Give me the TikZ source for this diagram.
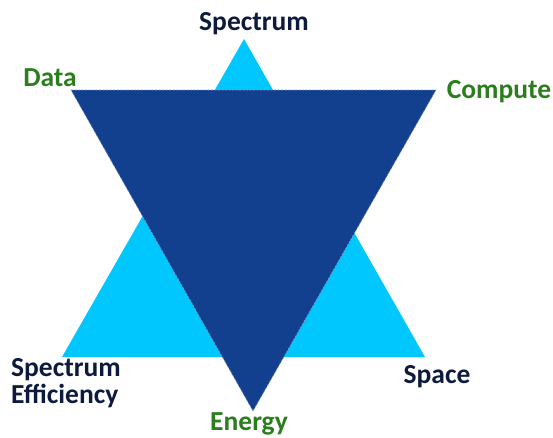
\documentclass[tikz,border=0pt]{standalone}
\usepackage{fontspec}
\setmainfont{Carlito}
\usepackage{tikz}
\usepackage{xcolor}

\definecolor{skyblue}{HTML}{00C8FF}
\definecolor{deepblue}{HTML}{133F8F}
\definecolor{leafgreen}{HTML}{2B7D1E}
\definecolor{inknavy}{HTML}{0D1A3E}

\tikzset{
  lbl/.style={inner sep=0pt,font=\fontsize{27.5}{27}\selectfont\bfseries,anchor=base},
  navylbl/.style={lbl,text=inknavy},
  greenlbl/.style={lbl,text=leafgreen}
}

\begin{document}
\begin{tikzpicture}[x=1pt,y=-1pt]
      \useasboundingbox (0,0) rectangle (553,437);
      % upward triangle
      \fill [skyblue] (244,39) -- (425,357) -- (62,357) -- cycle;
      % downward triangle
      \draw [deepblue!55!white,dash pattern=on 2pt off 1.5pt,line width=0.6pt,fill=deepblue] (71,90) -- (436,90) -- (253,411) -- cycle;
      % labels
      \node [navylbl] (spectrum) at (254,30) {Spectrum};
      \node [greenlbl] (data) at (50,86) {Data};
      \node [greenlbl] (compute) at (499,98) {Compute};
      \node [navylbl,anchor=base west,align=left] (effic) at (11,403) {Spectrum\\Efficiency};
      \node [navylbl] (space) at (437,383) {Space};
      \node [greenlbl] (energy) at (249,430) {Energy};
    \end{tikzpicture}
\end{document}
